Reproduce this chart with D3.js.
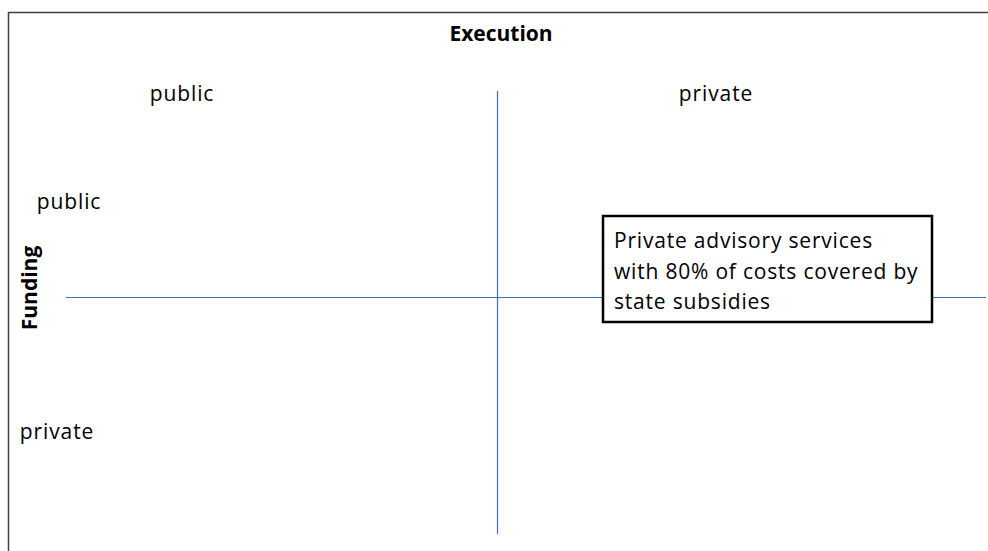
<!DOCTYPE html>
<html>
<head>
<meta charset="utf-8">
<script src="https://cdn.jsdelivr.net/npm/d3@7"></script>
<style>
  body { margin: 0; background: #fff; }
  text { font-family: "Open Sans", "Noto Sans", sans-serif; fill: #000; }
</style>
</head>
<body>
<svg id="chart" width="988" height="551"></svg>
<script>
// quadrant categories
var executionLabels = ['public', 'private'];
var fundingLabels = ['public', 'private'];
var axisTitles = ['Execution', 'Funding'];
// the one filled cell
var cellExecution = 'private';
var cellFunding = 'public';
var cellLines = ['Private advisory services', 'with 80% of costs covered by', 'state subsidies'];

var svg = d3.select('#chart'),
    width = +svg.attr('width'),
    height = +svg.attr('height');

// outer frame (top + left only visible)
svg.append('path')
    .attr('d', 'M8.5,' + height + 'V12.5H' + width)
    .attr('fill', 'none')
    .attr('stroke', '#404040')
    .attr('stroke-width', 1.5);

// positions of the labels
var x = d3.scalePoint().domain(executionLabels).range([182, 716]);
var yLeft = d3.scalePoint().domain(fundingLabels).range([201, 431]);
var labelX = d3.scaleOrdinal().domain(fundingLabels).range([69, 57]);

// cross lines
svg.append('line')
    .attr('x1', 497.5).attr('x2', 497.5)
    .attr('y1', 91).attr('y2', 534)
    .attr('stroke', '#3d6fc0').attr('stroke-width', 1.2);
svg.append('line')
    .attr('x1', 66).attr('x2', 986)
    .attr('y1', 297.5).attr('y2', 297.5)
    .attr('stroke', '#3d6fc0').attr('stroke-width', 1.2);

// titles
svg.append('text')
    .attr('x', 501).attr('y', 41)
    .attr('text-anchor', 'middle')
    .style('font-size', '21px')
    .style('font-weight', 'bold')
    .text(axisTitles[0]);

svg.append('text')
    .attr('transform', 'translate(37,288) rotate(-90)')
    .attr('text-anchor', 'middle')
    .style('font-size', '21px')
    .style('font-weight', 'bold')
    .text(axisTitles[1]);

// top labels
svg.selectAll('.exec')
    .data(executionLabels)
    .enter()
    .append('text')
    .attr('class', 'exec')
    .attr('x', function(d) { return x(d); })
    .attr('y', 101)
    .attr('text-anchor', 'middle')
    .style('font-size', '21px')
    .style('letter-spacing', '0.9px')
    .text(function(d) { return d; });

// left labels
svg.selectAll('.fund')
    .data(fundingLabels)
    .enter()
    .append('text')
    .attr('class', 'fund')
    .attr('x', function(d) { return labelX(d); })
    .attr('y', function(d) { return yLeft(d) + 8; })
    .attr('text-anchor', 'middle')
    .style('font-size', '21px')
    .style('letter-spacing', '0.9px')
    .text(function(d) { return d; });

// annotation box
var box = svg.append('g').attr('transform', 'translate(' + (x(cellExecution) - 113) + ',' + (yLeft(cellFunding) + 15) + ')');
box.append('rect')
    .attr('width', 329).attr('height', 106)
    .attr('fill', '#fff')
    .attr('stroke', '#000')
    .attr('stroke-width', 2.5);
box.selectAll('text')
    .data(cellLines)
    .enter()
    .append('text')
    .attr('x', 11)
    .attr('y', function(d, i) { return 32 + i * 30.5; })
    .style('font-size', '21px')
    .style('letter-spacing', '0.8px')
    .text(function(d) { return d; });
</script>
</body>
</html>
